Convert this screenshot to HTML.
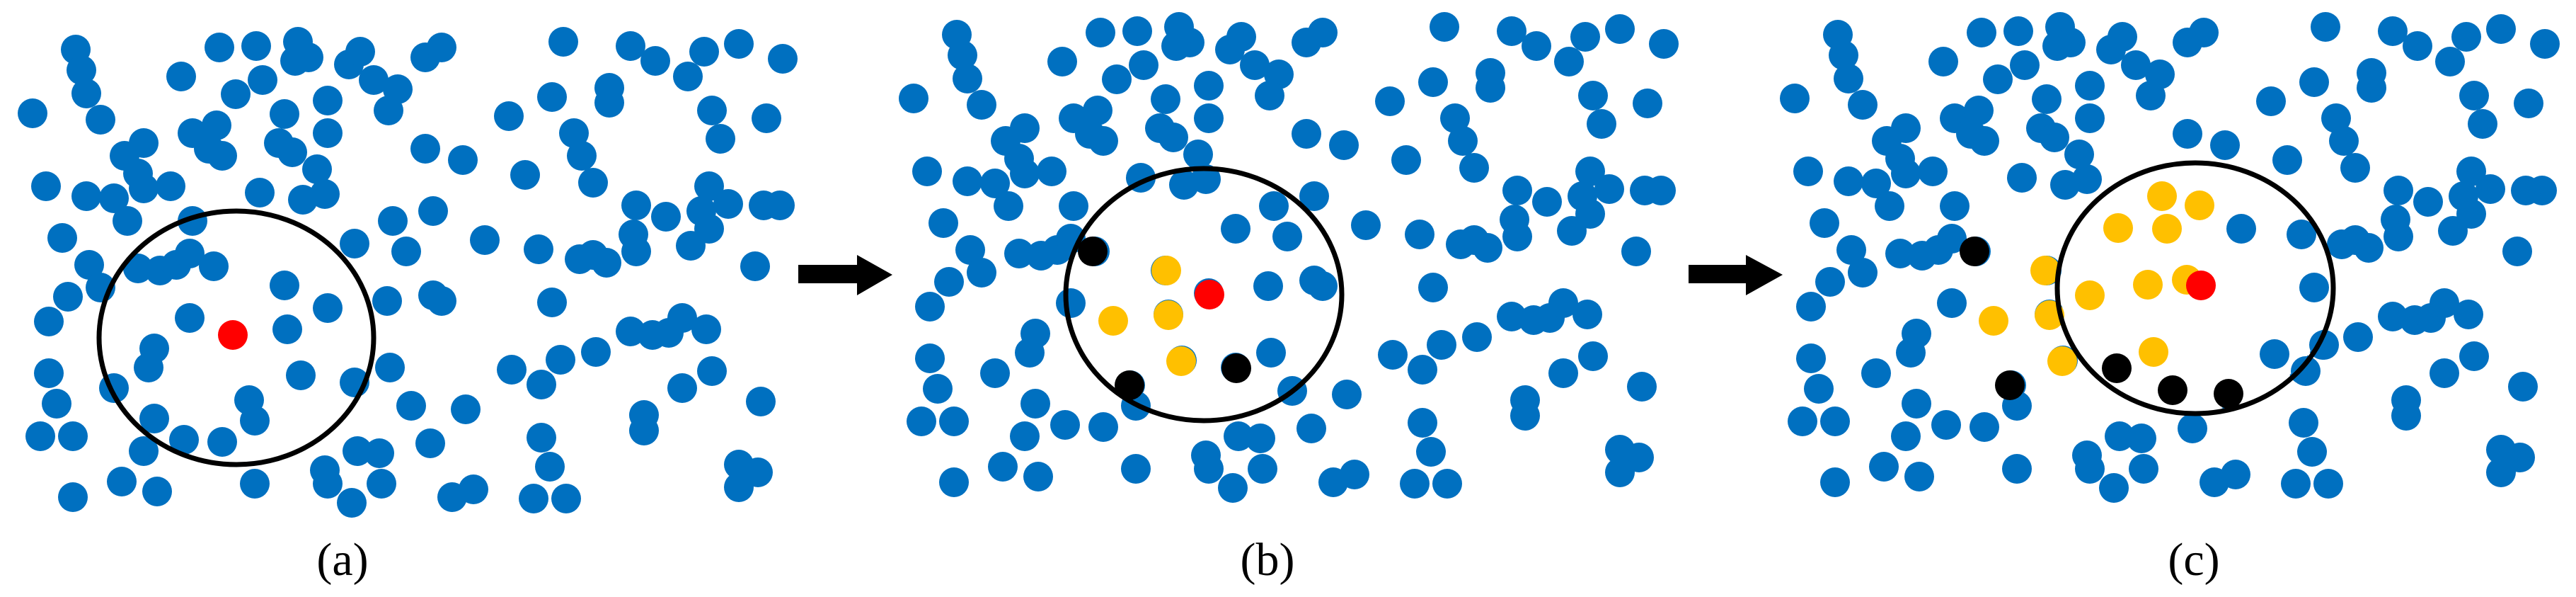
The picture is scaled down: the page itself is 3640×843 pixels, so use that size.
<!DOCTYPE html>
<html><head><meta charset="utf-8"><style>
html,body{margin:0;padding:0;background:#fff;}
svg{display:block;}
text{font-family:"Liberation Serif",serif;font-size:66px;fill:#000;}
</style></head><body>
<svg width="3640" height="843" viewBox="0 0 3640 843" xmlns="http://www.w3.org/2000/svg">
<defs>
<g id="d" fill="#0070C0">
<circle cx="107" cy="70" r="21"/><circle cx="115" cy="99" r="21"/><circle cx="122" cy="132" r="21"/><circle cx="46" cy="160" r="21"/><circle cx="142" cy="169" r="21"/>
<circle cx="310" cy="67" r="21"/><circle cx="362" cy="65" r="21"/><circle cx="421" cy="59" r="21"/><circle cx="436" cy="81" r="21"/><circle cx="417" cy="86" r="21"/>
<circle cx="256" cy="108" r="21"/><circle cx="371" cy="113" r="21"/><circle cx="333" cy="133" r="21"/><circle cx="493" cy="91" r="21"/><circle cx="509" cy="73" r="21"/>
<circle cx="528" cy="113" r="21"/><circle cx="562" cy="126" r="21"/><circle cx="549" cy="156" r="21"/><circle cx="601" cy="81" r="21"/><circle cx="624" cy="67" r="21"/>
<circle cx="463" cy="142" r="21"/><circle cx="463" cy="188" r="21"/><circle cx="402" cy="161" r="21"/><circle cx="394" cy="202" r="21"/><circle cx="413" cy="215" r="21"/>
<circle cx="272" cy="188" r="21"/><circle cx="306" cy="177" r="21"/><circle cx="295" cy="210" r="21"/><circle cx="314" cy="220" r="21"/><circle cx="176" cy="220" r="21"/>
<circle cx="203" cy="202" r="21"/><circle cx="195" cy="245" r="21"/><circle cx="203" cy="266" r="21"/><circle cx="65" cy="263" r="21"/><circle cx="122" cy="277" r="21"/>
<circle cx="161" cy="280" r="21"/><circle cx="241" cy="263" r="21"/><circle cx="367" cy="272" r="21"/><circle cx="428" cy="282" r="21"/><circle cx="459" cy="274" r="21"/>
<circle cx="448" cy="239" r="21"/><circle cx="180" cy="312" r="21"/><circle cx="272" cy="312" r="21"/><circle cx="88" cy="336" r="21"/><circle cx="126" cy="374" r="21"/>
<circle cx="142" cy="406" r="21"/><circle cx="195" cy="379" r="21"/><circle cx="226" cy="382" r="21"/><circle cx="249" cy="374" r="21"/><circle cx="268" cy="358" r="21"/>
<circle cx="302" cy="376" r="21"/><circle cx="402" cy="403" r="21"/><circle cx="463" cy="435" r="21"/><circle cx="555" cy="312" r="21"/><circle cx="612" cy="298" r="21"/>
<circle cx="501" cy="344" r="21"/><circle cx="574" cy="355" r="21"/><circle cx="685" cy="339" r="21"/><circle cx="547" cy="425" r="21"/><circle cx="612" cy="417" r="21"/>
<circle cx="624" cy="425" r="21"/><circle cx="268" cy="449" r="21"/><circle cx="406" cy="465" r="21"/><circle cx="96" cy="419" r="21"/><circle cx="69" cy="454" r="21"/>
<circle cx="218" cy="492" r="21"/><circle cx="210" cy="519" r="21"/><circle cx="69" cy="527" r="21"/><circle cx="80" cy="570" r="21"/><circle cx="161" cy="548" r="21"/>
<circle cx="425" cy="530" r="21"/><circle cx="501" cy="540" r="21"/><circle cx="551" cy="519" r="21"/><circle cx="352" cy="565" r="21"/><circle cx="360" cy="594" r="21"/>
<circle cx="218" cy="591" r="21"/><circle cx="57" cy="616" r="21"/><circle cx="103" cy="616" r="21"/><circle cx="260" cy="621" r="21"/><circle cx="314" cy="624" r="21"/>
<circle cx="203" cy="637" r="21"/><circle cx="172" cy="680" r="21"/><circle cx="222" cy="694" r="21"/><circle cx="103" cy="702" r="21"/><circle cx="360" cy="683" r="21"/>
<circle cx="459" cy="664" r="21"/><circle cx="463" cy="683" r="21"/><circle cx="497" cy="710" r="21"/><circle cx="505" cy="637" r="21"/><circle cx="536" cy="640" r="21"/>
<circle cx="539" cy="683" r="21"/><circle cx="581" cy="573" r="21"/><circle cx="608" cy="626" r="21"/><circle cx="658" cy="578" r="21"/><circle cx="639" cy="702" r="21"/>
<circle cx="669" cy="691" r="21"/><circle cx="796" cy="59" r="21"/><circle cx="891" cy="65" r="21"/><circle cx="926" cy="86" r="21"/><circle cx="972" cy="108" r="21"/>
<circle cx="995" cy="73" r="21"/><circle cx="1044" cy="62" r="21"/><circle cx="1106" cy="83" r="21"/><circle cx="780" cy="137" r="21"/><circle cx="861" cy="124" r="21"/>
<circle cx="861" cy="145" r="21"/><circle cx="719" cy="164" r="21"/><circle cx="1006" cy="156" r="21"/><circle cx="1083" cy="167" r="21"/><circle cx="1018" cy="196" r="21"/>
<circle cx="811" cy="188" r="21"/><circle cx="822" cy="220" r="21"/><circle cx="742" cy="247" r="21"/><circle cx="838" cy="258" r="21"/><circle cx="601" cy="210" r="21"/>
<circle cx="654" cy="226" r="21"/><circle cx="899" cy="290" r="21"/><circle cx="941" cy="306" r="21"/><circle cx="1002" cy="263" r="21"/><circle cx="991" cy="298" r="21"/>
<circle cx="1029" cy="288" r="21"/><circle cx="1002" cy="323" r="21"/><circle cx="1102" cy="290" r="21"/><circle cx="1079" cy="290" r="21"/><circle cx="761" cy="352" r="21"/>
<circle cx="819" cy="366" r="21"/><circle cx="838" cy="360" r="21"/><circle cx="857" cy="371" r="21"/><circle cx="895" cy="331" r="21"/><circle cx="899" cy="355" r="21"/>
<circle cx="976" cy="347" r="21"/><circle cx="1067" cy="376" r="21"/><circle cx="780" cy="427" r="21"/><circle cx="891" cy="468" r="21"/><circle cx="922" cy="473" r="21"/>
<circle cx="945" cy="470" r="21"/><circle cx="964" cy="449" r="21"/><circle cx="998" cy="465" r="21"/><circle cx="723" cy="522" r="21"/><circle cx="765" cy="543" r="21"/>
<circle cx="792" cy="508" r="21"/><circle cx="842" cy="497" r="21"/><circle cx="1006" cy="524" r="21"/><circle cx="964" cy="548" r="21"/><circle cx="910" cy="586" r="21"/>
<circle cx="910" cy="608" r="21"/><circle cx="1075" cy="567" r="21"/><circle cx="765" cy="618" r="21"/><circle cx="777" cy="659" r="21"/><circle cx="754" cy="704" r="21"/>
<circle cx="800" cy="704" r="21"/><circle cx="1044" cy="656" r="21"/><circle cx="1071" cy="667" r="21"/><circle cx="1044" cy="688" r="21"/>
</g>
</defs>

<!-- panel a -->
<use href="#d"/>
<ellipse cx="334" cy="477" rx="194" ry="179" fill="none" stroke="#000" stroke-width="7"/>
<circle cx="329" cy="473" r="21" fill="#FF0000"/>
<text x="484" y="812" text-anchor="middle">(a)</text>

<!-- arrow 1 -->
<polygon points="1128,374 1211,374 1211,360 1261,388 1211,417 1211,400 1128,400" fill="#000"/>

<!-- panel b -->
<use href="#d" transform="translate(1245,-21)"/>
<g fill="#000"><circle cx="1544" cy="355" r="21"/><circle cx="1747" cy="520" r="21"/><circle cx="1596" cy="544" r="21"/></g>
<g fill="#FFC000"><circle cx="1648" cy="382" r="21"/><circle cx="1573" cy="453" r="21"/><circle cx="1651" cy="445" r="21"/><circle cx="1669" cy="510" r="21"/></g>
<circle cx="1709" cy="416" r="21" fill="#FF0000"/>
<ellipse cx="1701" cy="416" rx="195" ry="178" fill="none" stroke="#000" stroke-width="7"/>
<text x="1791" y="812" text-anchor="middle">(b)</text>

<!-- arrow 2 -->
<polygon points="2386,374 2467,374 2467,360 2519,388 2467,417 2467,400 2386,400" fill="#000"/>

<!-- panel c -->
<use href="#d" transform="translate(2490,-21)"/>
<ellipse cx="3102" cy="407" rx="190" ry="172" fill="#fff"/>
<g fill="#0070C0"><circle cx="3167" cy="323" r="21"/><circle cx="3270" cy="406" r="21"/><circle cx="3214" cy="500" r="21"/><circle cx="3252" cy="331" r="21"/><circle cx="3284" cy="487" r="21"/><circle cx="3258" cy="524" r="21"/></g>
<g fill="#000"><circle cx="2790" cy="355" r="21"/><circle cx="2840" cy="544" r="21"/><circle cx="2991" cy="520" r="21"/><circle cx="3070" cy="551" r="21"/><circle cx="3149" cy="556" r="21"/></g>
<g fill="#FFC000"><circle cx="3055" cy="277" r="21"/><circle cx="3108" cy="290" r="21"/><circle cx="2993" cy="322" r="21"/><circle cx="3062" cy="323" r="21"/><circle cx="2890" cy="382" r="21"/><circle cx="2953" cy="417" r="21"/><circle cx="3035" cy="402" r="21"/><circle cx="3090" cy="395" r="21"/><circle cx="2817" cy="453" r="21"/><circle cx="2896" cy="445" r="21"/><circle cx="2914" cy="510" r="21"/><circle cx="3043" cy="497" r="21"/></g>
<circle cx="3110" cy="403" r="21" fill="#FF0000"/>
<ellipse cx="3102" cy="407" rx="195" ry="177" fill="none" stroke="#000" stroke-width="7"/>
<text x="3100" y="812" text-anchor="middle">(c)</text>
</svg>
</body></html>
